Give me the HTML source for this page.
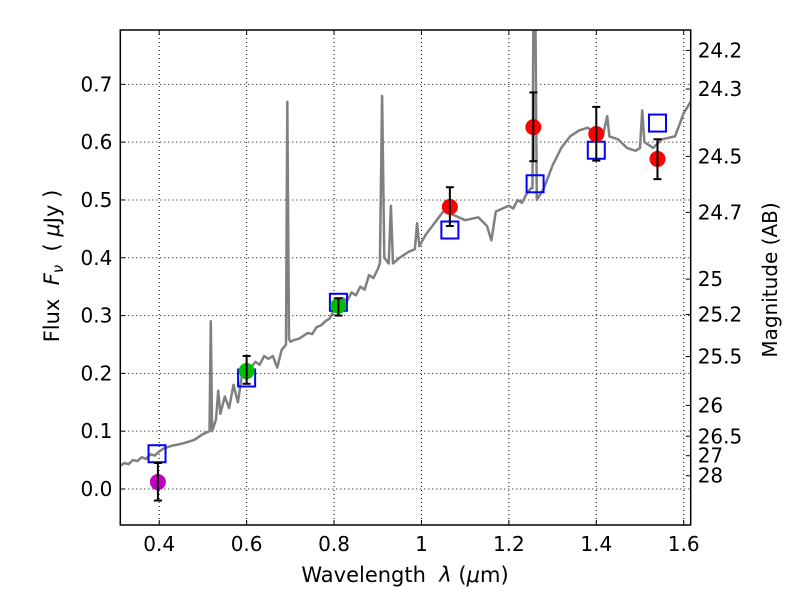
<!DOCTYPE html>
<html><head><meta charset="utf-8"><style>
body{margin:0;background:#fff;}
svg text{font-family:"DejaVu Sans","Liberation Sans",sans-serif;fill:#000;}
</style></head><body>
<svg id="chart" width="800" height="600" xmlns="http://www.w3.org/2000/svg">
<g id="grid"></g>
<g id="plot"></g>
<g id="axes"></g>
<text x="405" y="582" font-size="21" text-anchor="middle" xml:space="preserve">Wavelength  <tspan font-style="italic">λ</tspan> (<tspan font-style="italic">μ</tspan>m)</text>
<text transform="translate(59,266) rotate(-90)" font-size="21" text-anchor="middle" xml:space="preserve">Flux  <tspan font-style="italic">F</tspan><tspan font-style="italic" font-size="15" dy="4">ν</tspan><tspan dy="-4">  ( </tspan><tspan font-style="italic">μ</tspan>Jy )</text>
<text transform="translate(777,280) rotate(-90)" font-size="20" text-anchor="middle">Magnitude (AB)</text>
</svg>
<script>
const specWave=[0.311,0.32,0.33,0.34,0.35,0.36,0.37,0.38,0.39,0.40,0.41,0.43,0.45,0.46,0.48,0.50,0.515,0.518,0.521,0.53,0.535,0.54,0.55,0.56,0.57,0.58,0.59,0.60,0.61,0.62,0.63,0.64,0.65,0.66,0.67,0.68,0.69,0.693,0.697,0.70,0.71,0.72,0.73,0.74,0.75,0.76,0.77,0.78,0.79,0.80,0.81,0.82,0.83,0.84,0.85,0.86,0.87,0.88,0.89,0.90,0.905,0.91,0.915,0.925,0.93,0.935,0.95,0.97,0.985,0.99,0.995,1.01,1.04,1.06,1.07,1.10,1.13,1.15,1.16,1.17,1.20,1.21,1.22,1.23,1.24,1.25,1.254,1.256,1.261,1.264,1.28,1.30,1.32,1.34,1.36,1.38,1.40,1.415,1.425,1.43,1.45,1.47,1.49,1.50,1.505,1.51,1.53,1.55,1.58,1.60,1.616];
const specFlux=[0.04,0.045,0.043,0.05,0.048,0.055,0.052,0.06,0.058,0.065,0.07,0.075,0.078,0.08,0.085,0.095,0.1,0.29,0.1,0.12,0.17,0.13,0.16,0.14,0.18,0.15,0.2,0.19,0.21,0.22,0.215,0.23,0.225,0.23,0.21,0.24,0.25,0.67,0.26,0.255,0.258,0.26,0.265,0.27,0.268,0.28,0.283,0.29,0.295,0.31,0.305,0.33,0.325,0.34,0.335,0.35,0.345,0.37,0.365,0.38,0.39,0.68,0.40,0.39,0.49,0.39,0.40,0.41,0.415,0.46,0.42,0.44,0.47,0.49,0.475,0.465,0.47,0.455,0.43,0.48,0.49,0.485,0.50,0.495,0.51,0.52,0.52,0.80,0.80,0.50,0.52,0.56,0.59,0.61,0.62,0.625,0.615,0.61,0.645,0.61,0.605,0.59,0.585,0.59,0.655,0.60,0.59,0.605,0.61,0.65,0.67];
const obsWave=[0.397,0.600,0.81,1.065,1.256,1.40,1.54];
const obsFlux=[0.012,0.204,0.317,0.488,0.626,0.614,0.571];
const obsLo=[-0.02,0.182,0.30,0.455,0.567,0.568,0.536];
const obsHi=[0.045,0.230,0.33,0.522,0.686,0.661,0.605];
const obsColor=['#bf00bf','#00bf00','#00bf00','#ff0000','#ff0000','#ff0000','#ff0000'];
const modWave=[0.395,0.6,0.81,1.065,1.26,1.40,1.54];
const modFlux=[0.061,0.192,0.323,0.448,0.528,0.586,0.633];
const xTicks=[0.4,0.6,0.8,1.0,1.2,1.4,1.6];
const xTickLabels=['0.4','0.6','0.8','1','1.2','1.4','1.6'];
const yTicks=[0.0,0.1,0.2,0.3,0.4,0.5,0.6,0.7];
const magTicks=[24.2,24.3,24.5,24.7,25,25.2,25.5,26,26.5,27,28];

const L=120.3,R=690.7,T=30,B=525;
const XMIN=0.311,XMAX=1.616,YMIN=-0.0623,YMAX=0.794;
const X=v=>L+(v-XMIN)/(XMAX-XMIN)*(R-L);
const Y=v=>B-(v-YMIN)/(YMAX-YMIN)*(B-T);
const NS='http://www.w3.org/2000/svg';
function mk(tag,attrs,parent){const e=document.createElementNS(NS,tag);for(const k in attrs)e.setAttribute(k,attrs[k]);parent.appendChild(e);return e;}
const grid=document.getElementById('grid'),plot=document.getElementById('plot'),axes=document.getElementById('axes');

xTicks.forEach((t,i)=>{
  const gl=mk('line',{x1:X(t),x2:X(t),y1:T,y2:B,stroke:'#000','stroke-width':1,'stroke-dasharray':'1,3'},grid);
  
  
  mk('line',{x1:X(t),x2:X(t),y1:B,y2:B-5,stroke:'#000'},axes);
  mk('line',{x1:X(t),x2:X(t),y1:T,y2:T+5,stroke:'#000'},axes);
  const tx=mk('text',{x:X(t),y:B+26,'font-size':20,'text-anchor':'middle'},axes);
  tx.textContent=xTickLabels[i];
  
  
});
yTicks.forEach(t=>{
  const gl=mk('line',{x1:L,x2:R,y1:Y(t),y2:Y(t),stroke:'#000','stroke-width':1,'stroke-dasharray':'1,3'},grid);
  
  
  mk('line',{x1:L,x2:L+5,y1:Y(t),y2:Y(t),stroke:'#000'},axes);
  const tx=mk('text',{x:L-8,y:Y(t)+7,'font-size':20,'text-anchor':'end'},axes);
  tx.textContent=t.toFixed(1);
  
  
});
magTicks.forEach(m=>{
  const f=Math.pow(10,(23.9-m)/2.5);
  const y=Y(f);
  mk('line',{x1:R,x2:R-5,y1:y,y2:y,stroke:'#000'},axes);
  const tx=mk('text',{x:R+7,y:y+7,'font-size':20},axes);
  tx.textContent=String(m);
  
  
});
const cp=mk('clipPath',{id:'clip'},plot);mk('rect',{x:L,y:T,width:R-L,height:B-T},cp);
const pts=specWave.map((w,i)=>X(w).toFixed(1)+','+Y(specFlux[i]).toFixed(1)).join(' ');
const sp=mk('polyline',{points:pts,fill:'none',stroke:'#808080','stroke-width':2.5,'clip-path':'url(#clip)','stroke-linejoin':'round'},plot);


modWave.forEach((w,i)=>{
  const r=mk('rect',{x:X(w)-8.5,y:Y(modFlux[i])-8.5,width:17,height:17,fill:'none',stroke:'#0000ff','stroke-width':2},plot);
  
  
});
obsWave.forEach((w,i)=>{
  const x=X(w);
  const c=mk('circle',{cx:x,cy:Y(obsFlux[i]),r:8,fill:obsColor[i]},plot);
  
  
  const g=mk('g',{stroke:'#000','stroke-width':2},plot);
  
  
  mk('line',{x1:x,x2:x,y1:Y(obsLo[i]),y2:Y(obsHi[i])},g);
  mk('line',{x1:x-4,x2:x+4,y1:Y(obsLo[i]),y2:Y(obsLo[i])},g);
  mk('line',{x1:x-4,x2:x+4,y1:Y(obsHi[i]),y2:Y(obsHi[i])},g);
});
const fr=mk('rect',{x:L,y:T,width:R-L,height:B-T,fill:'none',stroke:'#000','stroke-width':1.5},axes);


</script>
</body></html>
